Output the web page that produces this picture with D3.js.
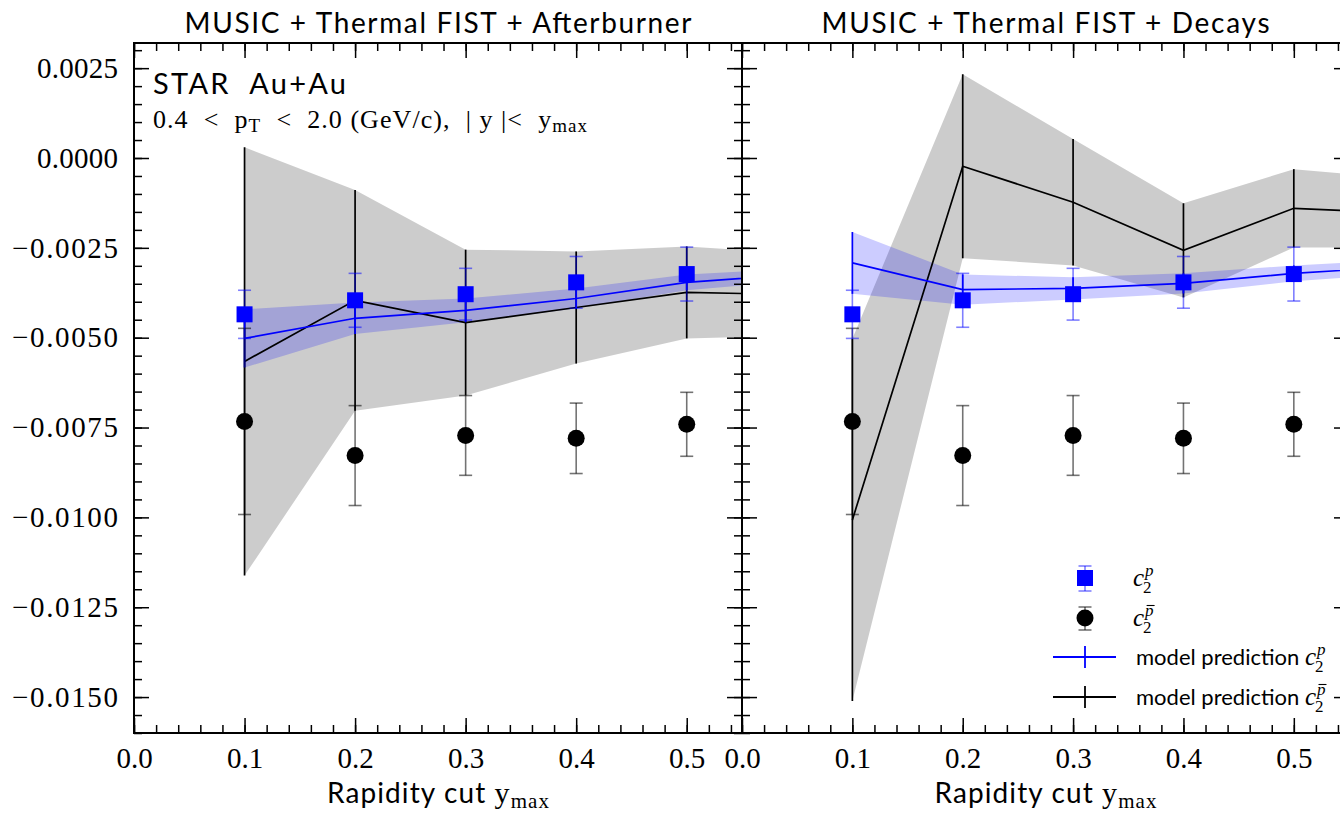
<!DOCTYPE html>
<html><head><meta charset="utf-8">
<script src="https://cdn.jsdelivr.net/npm/d3@7"></script>
<style>body{margin:0;background:#fff}svg{display:block}</style>
</head><body>
<script>
// ---------- data ----------
const dataX = [0.1, 0.2, 0.3, 0.4, 0.5];
const c2p = [-0.00435, -0.00396, -0.00379, -0.00346, -0.00323];
const c2pErr = [0.00067, 0.00075, 0.00072, 0.00072, 0.00075];
const c2pbar = [-0.00733, -0.00828, -0.00772, -0.00780, -0.00741];
const c2pbarErr = [0.00259, 0.00139, 0.00111, 0.00098, 0.00089];

const modelX = [0.1, 0.2, 0.3, 0.4, 0.5, 0.6];
// MUSIC + Thermal FIST + Afterburner
const abP = [-0.00502, -0.00446, -0.00424, -0.00391, -0.00346, -0.00324];
const abPErr = [0.00081, 0.00044, 0.00033, 0.00028, 0.00022, 0.00017];
const abPbar = [-0.00566, -0.00396, -0.00458, -0.00416, -0.00374, -0.00380];
const abPbarErr = [0.00596, 0.00307, 0.00203, 0.00156, 0.00128, 0.00114];
// MUSIC + Thermal FIST + Decays
const dcP = [-0.00292, -0.00366, -0.00363, -0.00349, -0.00321, -0.00302];
const dcPErr = [0.00086, 0.00042, 0.00031, 0.00028, 0.00022, 0.00020];
const dcPbar = [-0.01007, -0.00023, -0.00123, -0.00257, -0.00140, -0.00154];
const dcPbarErr = [0.00504, 0.00256, 0.00176, 0.00131, 0.00109, 0.00095];

const xTicks = [0.0, 0.1, 0.2, 0.3, 0.4, 0.5];
const yTicks = [0.0025, 0.0, -0.0025, -0.0050, -0.0075, -0.0100, -0.0125, -0.0150];
const titles = ["MUSIC + Thermal FIST + Afterburner", "MUSIC + Thermal FIST + Decays"];

// ---------- setup ----------
const W = 1340, H = 815;
const SANS = "Lato, 'Open Sans', sans-serif";
const SERIF = "'Liberation Serif', 'DejaVu Serif', serif";
const BLUE = "#0000ff";
const svg = d3.select("body").append("svg").attr("width", W).attr("height", H);

const yTop = 43, yBot = 733;
const y = d3.scaleLinear().domain([-0.0160, 0.0032]).range([yBot, yTop]);
const xMinor = d3.range(0, 0.5501, 0.02);
const yMinor = d3.range(-0.0160, 0.00321, 0.0005);
const titleWidths = [507, 448];

function panel(idx, x0, x1, mP, mPe, mPb, mPbe, showYLabels) {
  const x = d3.scaleLinear().domain([0, 0.55]).range([x0, x1]);
  const g = svg.append("g");
  const cid = "clip" + idx;
  svg.append("defs").append("clipPath").attr("id", cid)
    .append("rect").attr("x", x0).attr("y", yTop).attr("width", x1 - x0).attr("height", yBot - yTop);
  const gc = g.append("g").attr("clip-path", `url(#${cid})`);

  const mpData = modelX.map((v, i) => ({x: v, v: mP[i], e: mPe[i]}));
  const mbData = modelX.map((v, i) => ({x: v, v: mPb[i], e: mPbe[i]}));
  const area = d3.area().x(d => x(d.x)).y0(d => y(d.v - d.e)).y1(d => y(d.v + d.e));
  const line = d3.line().x(d => x(d.x)).y(d => y(d.v));

  gc.append("path").datum(mbData).attr("d", area).attr("fill", "rgba(0,0,0,0.2)");
  gc.append("path").datum(mpData).attr("d", area).attr("fill", "rgba(0,0,255,0.2)");

  [[mbData, "#000"], [mpData, BLUE]].forEach(([dat, col]) => {
    gc.selectAll(null).data(dat).enter().append("line")
      .attr("x1", d => x(d.x)).attr("x2", d => x(d.x))
      .attr("y1", d => y(d.v - d.e)).attr("y2", d => y(d.v + d.e))
      .attr("stroke", col).attr("stroke-width", 1.7);
    gc.append("path").datum(dat).attr("d", line).attr("fill", "none")
      .attr("stroke", col).attr("stroke-width", 1.7);
  });

  const pD = dataX.map((v, i) => ({x: v, v: c2p[i], e: c2pErr[i]}));
  const bD = dataX.map((v, i) => ({x: v, v: c2pbar[i], e: c2pbarErr[i]}));
  [[bD, "rgba(0,0,0,0.55)"], [pD, "rgba(0,0,255,0.5)"]].forEach(([dat, col]) => {
    const eg = gc.append("g").attr("stroke", col).attr("stroke-width", 1.6);
    eg.selectAll(null).data(dat).enter().append("line")
      .attr("x1", d => x(d.x)).attr("x2", d => x(d.x))
      .attr("y1", d => y(d.v - d.e)).attr("y2", d => y(d.v + d.e));
    eg.selectAll(null).data(dat).enter().append("line")
      .attr("x1", d => x(d.x) - 6.5).attr("x2", d => x(d.x) + 6.5)
      .attr("y1", d => y(d.v + d.e)).attr("y2", d => y(d.v + d.e));
    eg.selectAll(null).data(dat).enter().append("line")
      .attr("x1", d => x(d.x) - 6.5).attr("x2", d => x(d.x) + 6.5)
      .attr("y1", d => y(d.v - d.e)).attr("y2", d => y(d.v - d.e));
  });
  gc.selectAll(null).data(bD).enter().append("circle")
    .attr("cx", d => x(d.x)).attr("cy", d => y(d.v)).attr("r", 8.5).attr("fill", "#000");
  gc.selectAll(null).data(pD).enter().append("rect")
    .attr("x", d => x(d.x) - 8).attr("y", d => y(d.v) - 8)
    .attr("width", 16).attr("height", 16).attr("fill", BLUE);

  const ax = g.append("g");
  const mk = (axis, tr) => {
    const a = ax.append("g").attr("transform", tr).call(axis);
    a.select(".domain").remove();
    a.selectAll(".tick line").attr("stroke", "#000").attr("stroke-width", 1.5);
    return a;
  };
  const bx = mk(d3.axisBottom(x).tickValues(xTicks).tickSize(-15).tickPadding(14).tickFormat(d3.format(".1f")),
    `translate(0,${yBot})`);
  bx.selectAll("text").attr("font-family", SERIF).attr("font-size", 29).attr("fill", "#000");
  mk(d3.axisBottom(x).tickValues(xMinor).tickSize(-8).tickFormat(""), `translate(0,${yBot})`);
  mk(d3.axisTop(x).tickValues(xTicks).tickSize(-15).tickFormat(""), `translate(0,${yTop})`);
  mk(d3.axisTop(x).tickValues(xMinor).tickSize(-8).tickFormat(""), `translate(0,${yTop})`);
  const ly = mk(d3.axisLeft(y).tickValues(yTicks).tickSize(-15).tickPadding(16)
      .tickFormat(showYLabels ? d3.format(".4f") : ""), `translate(${x0},0)`);
  ly.selectAll("text").attr("font-family", SERIF).attr("font-size", 29).attr("fill", "#000")
    .attr("textLength", d => showYLabels ? (d < 0 ? 106 : 81) : null)
    .attr("lengthAdjust", "spacing");
  mk(d3.axisLeft(y).tickValues(yMinor).tickSize(-8).tickFormat(""), `translate(${x0},0)`);
  mk(d3.axisRight(y).tickValues(yTicks).tickSize(-15).tickFormat(""), `translate(${x1},0)`);
  mk(d3.axisRight(y).tickValues(yMinor).tickSize(-8).tickFormat(""), `translate(${x1},0)`);
  g.append("rect").attr("x", x0).attr("y", yTop).attr("width", x1 - x0).attr("height", yBot - yTop)
    .attr("fill", "none").attr("stroke", "#000").attr("stroke-width", 2);

  const cx = (x0 + x1) / 2;
  g.append("text").attr("x", cx).attr("y", 33).attr("text-anchor", "middle")
    .attr("font-family", SANS).attr("font-size", 28).attr("fill", "#000")
    .attr("textLength", titleWidths[idx]).attr("lengthAdjust", "spacing").text(titles[idx]);
  const xl = g.append("text").attr("x", cx).attr("y", 803).attr("text-anchor", "middle").attr("fill", "#000")
    .attr("textLength", 222).attr("lengthAdjust", "spacing");
  xl.append("tspan").attr("font-family", SANS).attr("font-size", 28).text("Rapidity cut ");
  xl.append("tspan").attr("font-family", SERIF).attr("font-size", 30).text("y");
  xl.append("tspan").attr("font-family", SERIF).attr("font-size", 21).attr("dy", 5).text("max");
  return x;
}

panel(0, 134, 742, abP, abPErr, abPbar, abPbarErr, true);
panel(1, 742, 1349, dcP, dcPErr, dcPbar, dcPbarErr, false);

svg.append("text").attr("x", 153).attr("y", 94).attr("font-family", SANS).attr("font-size", 29)
  .attr("fill", "#000").attr("xml:space", "preserve")
  .attr("textLength", 193).attr("lengthAdjust", "spacing").text("STAR  Au+Au");
const t2 = svg.append("text").attr("x", 153).attr("y", 128).attr("font-family", SERIF)
  .attr("font-size", 26).attr("fill", "#000").attr("xml:space", "preserve")
  .attr("textLength", 434).attr("lengthAdjust", "spacing");
t2.append("tspan").text("0.4  <  p");
t2.append("tspan").attr("font-size", 19).attr("dy", 4).text("T");
t2.append("tspan").attr("dy", -4).text("  <  2.0 (GeV/c),  | y |<  y");
t2.append("tspan").attr("font-size", 19).attr("dy", 4).text("max");

const lg = svg.append("g");
const lx = 1085;
function c2label(xp, yp, bar, prefix) {
  const t = lg.append("text").attr("x", xp).attr("y", yp + 8).attr("fill", "#000");
  if (prefix) {
    t.append("tspan").attr("font-family", SANS).attr("font-size", 22).text(prefix);
  }
  t.append("tspan").attr("font-family", SERIF).attr("font-style", "italic").attr("font-size", 25).text("c");
  const w = t.node().getComputedTextLength();
  lg.append("text").attr("x", xp + w + 1).attr("y", yp - 2).attr("font-family", SERIF)
    .attr("font-style", "italic").attr("font-size", 17).attr("fill", "#000").text("p");
  if (bar) {
    lg.append("line").attr("x1", xp + w + 2.5).attr("x2", xp + w + 10.5)
      .attr("y1", yp - 12.5).attr("y2", yp - 12.5).attr("stroke", "#000").attr("stroke-width", 1.1);
  }
  lg.append("text").attr("x", xp + w - 1).attr("y", yp + 15).attr("font-family", SERIF)
    .attr("font-size", 17).attr("fill", "#000").text("2");
}
lg.append("line").attr("x1", lx).attr("x2", lx).attr("y1", 566).attr("y2", 591).attr("stroke", "rgba(0,0,255,0.5)").attr("stroke-width", 1.6);
[566, 591].forEach(v => lg.append("line").attr("x1", lx - 6.5).attr("x2", lx + 6.5).attr("y1", v).attr("y2", v).attr("stroke", "rgba(0,0,255,0.5)").attr("stroke-width", 1.6));
lg.append("rect").attr("x", lx - 8).attr("y", 570).attr("width", 16).attr("height", 16).attr("fill", BLUE);
c2label(1133, 578, false, null);
lg.append("line").attr("x1", lx).attr("x2", lx).attr("y1", 607).attr("y2", 630).attr("stroke", "rgba(0,0,0,0.55)").attr("stroke-width", 1.6);
[607, 630].forEach(v => lg.append("line").attr("x1", lx - 6.5).attr("x2", lx + 6.5).attr("y1", v).attr("y2", v).attr("stroke", "rgba(0,0,0,0.55)").attr("stroke-width", 1.6));
lg.append("circle").attr("cx", lx).attr("cy", 618).attr("r", 8.5).attr("fill", "#000");
c2label(1133, 618, true, null);
[[657, BLUE, false], [697, "#000", true]].forEach(([yy, col, bar]) => {
  lg.append("line").attr("x1", 1053).attr("x2", 1116).attr("y1", yy).attr("y2", yy).attr("stroke", col).attr("stroke-width", 1.8);
  lg.append("line").attr("x1", lx).attr("x2", lx).attr("y1", yy - 11).attr("y2", yy + 11).attr("stroke", col).attr("stroke-width", 1.8);
  c2label(1136, yy, bar, "model prediction ");
});
</script>
</body></html>
